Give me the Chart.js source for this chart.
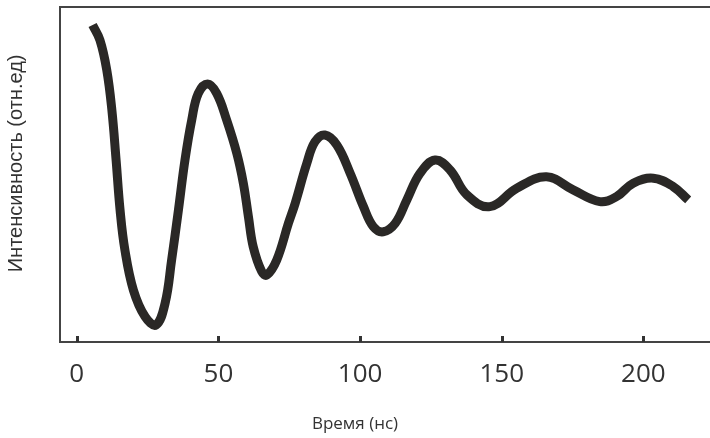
<!DOCTYPE html>
<html>
<head>
<meta charset="utf-8">
<script src="https://cdn.jsdelivr.net/npm/chart.js@4.4.1/dist/chart.umd.min.js"></script>
<style>
    body { margin: 0; background: #fff; }
    canvas { display: block; }
</style>
</head>
<body>
<canvas id="chart" width="710" height="438"></canvas>
<script>
// time, ns
var timeNs = [5.6, 8.2, 10.6, 12.4, 13.9, 15.3, 17.0, 20.0, 24.1, 28.0, 31.2, 33.5, 35.9, 38.2, 40.6, 42.9,
    46.2, 49.4, 52.9, 56.5, 58.8, 60.6, 62.3, 65.3, 67.1, 70.6, 74.7, 77.1, 81.2, 84.1, 87.6, 91.8,
    96.5, 101.2, 104.7, 108.2, 112.4, 116.5, 121.2, 126.5, 131.8, 137.7, 145.8, 155.3, 165.8, 175.2,
    184.6, 190.5, 196.4, 203.5, 210.5, 215.8];
// intensity, arb. units
var intensity = [94.6, 90.1, 81.2, 69.3, 54.3, 39.4, 27.5, 15.5, 7.6, 5.1, 11.6, 24.5, 39.4, 54.3, 66.3, 74.2,
    77.0, 74.2, 66.3, 56.3, 47.4, 37.4, 28.4, 21.0, 20.0, 24.5, 35.4, 41.4, 53.3, 59.8, 61.8, 58.8,
    50.4, 40.4, 34.4, 32.9, 35.4, 42.4, 50.4, 54.3, 51.3, 43.9, 40.4, 45.9, 49.3, 45.4,
    41.9, 43.4, 47.4, 48.9, 46.4, 42.4];
var xTicks = [0, 50, 100, 150, 200];

var points = [];
for (var i = 0; i < timeNs.length; ++i) {
    points.push({ x: timeNs[i], y: intensity[i] });
}

// top frame line and inner tick marks
var framePlugin = {
    id: 'frame',
    afterDraw: function (chart) {
        var ctx = chart.ctx;
        var area = chart.chartArea;
        var xScale = chart.scales.x;
        ctx.save();
        ctx.strokeStyle = '#444';
        ctx.lineWidth = 2;
        ctx.beginPath();
        ctx.moveTo(area.left - 1, area.top);
        ctx.lineTo(chart.width, area.top);
        ctx.stroke();
        ctx.lineWidth = 3;
        ctx.strokeStyle = '#333';
        xScale.ticks.forEach(function (t) {
            var px = Math.round(xScale.getPixelForValue(t.value)) + 0.5;
            ctx.beginPath();
            ctx.moveTo(px, area.bottom);
            ctx.lineTo(px, area.bottom - 6);
            ctx.stroke();
        });
        ctx.restore();
    }
};

new Chart(document.getElementById('chart').getContext('2d'), {
    type: 'line',
    data: {
        datasets: [{
            data: points,
            borderColor: '#2a2826',
            borderWidth: 9,
            borderCapStyle: 'butt',
            borderJoinStyle: 'round',
            pointRadius: 0,
            tension: 0.4,
            fill: false
        }]
    },
    options: {
        responsive: false,
        animation: false,
        layout: { padding: { top: 7, right: 0, left: 0, bottom: 0 } },
        plugins: {
            legend: { display: false },
            tooltip: { enabled: false },
            title: {
                display: true,
                position: 'bottom',
                text: 'Время (нс)',
                color: '#333',
                font: { family: 'Open Sans', size: 17, weight: 'normal' },
                padding: { top: 0, bottom: 4 }
            }
        },
        scales: {
            x: {
                type: 'linear',
                min: -5.9,
                max: 223.5,
                afterBuildTicks: function (scale) {
                    scale.ticks = xTicks.map(function (v) { return { value: v }; });
                },
                afterFit: function (scale) {
                    scale.height = 71.6;
                },
                grid: { display: false, drawTicks: false },
                border: { display: true, color: '#444', width: 2 },
                ticks: {
                    color: '#333',
                    padding: 17,
                    maxRotation: 0,
                    font: { family: 'Open Sans', size: 26 }
                }
            },
            y: {
                min: 0,
                max: 100,
                afterFit: function (scale) {
                    scale.width = 60;
                },
                grid: { display: false, drawTicks: false },
                border: { display: true, color: '#444', width: 2 },
                ticks: { display: false },
                title: {
                    display: true,
                    // leading spaces lift the label a little, as in the source
                    text: '\u00a0\u00a0\u00a0\u00a0Интенсивность (отн.ед)',
                    color: '#333',
                    font: { family: 'Liberation Sans', size: 20 },
                    padding: { top: 4, bottom: 0 }
                }
            }
        }
    },
    plugins: [framePlugin]
});
</script>
</body>
</html>
